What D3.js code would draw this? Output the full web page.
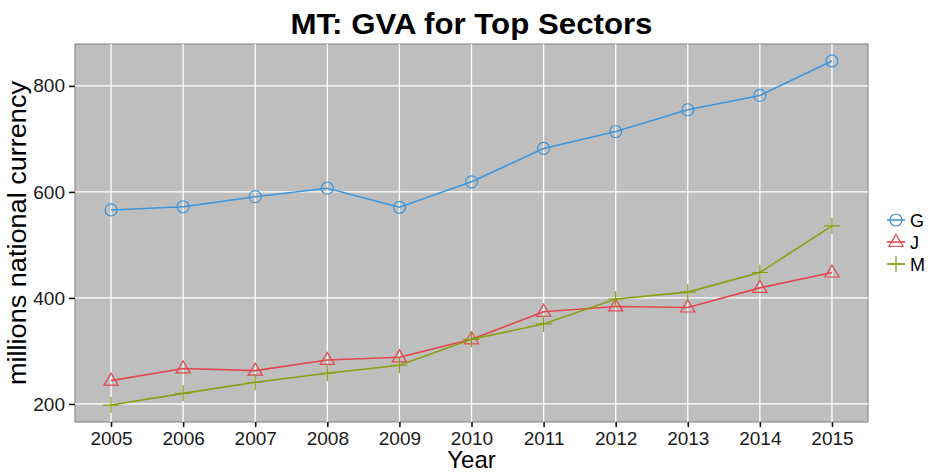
<!DOCTYPE html>
<html>
<head>
<meta charset="utf-8">
<script src="https://cdn.jsdelivr.net/npm/d3@7"></script>
<style>
  body { margin: 0; background: #fff; }
  text { font-family: "Liberation Sans", Arial, sans-serif; }
</style>
</head>
<body>
<svg id="chart" width="928" height="473"></svg>
<script>
// data
var years = [2005, 2006, 2007, 2008, 2009, 2010, 2011, 2012, 2013, 2014, 2015];
var g_values = [566, 572, 591, 607, 571, 619, 682, 714, 755, 782, 847];
var j_values = [244, 267, 263, 283, 288, 322, 374, 384, 382, 419, 448];
var m_values = [198, 220, 241, 258, 273, 322, 351, 398, 411, 448, 536];
var y_ticks = [200, 400, 600, 800];
var series_names = ["G", "J", "M"];
var series_colors = ["#3f95d9", "#e2474d", "#8c9e14"];

var series = [
  {name: "G", values: g_values, shape: "circle"},
  {name: "J", values: j_values, shape: "triangle"},
  {name: "M", values: m_values, shape: "plus"}
];

var svg = d3.select("#chart");
var p_left = 75, p_top = 44, p_right = 868, p_bottom = 422;

var x = d3.scaleLinear().domain([2004.5, 2015.5]).range([p_left, p_right]);
var y = d3.scaleLinear().domain([166, 879]).range([p_bottom, p_top]);
var color = d3.scaleOrdinal().domain(series_names).range(series_colors);

// panel
svg.append("rect")
  .attr("x", p_left).attr("y", p_top)
  .attr("width", p_right - p_left).attr("height", p_bottom - p_top)
  .attr("fill", "#bebebe")
  .attr("stroke", "#7f7f7f").attr("stroke-width", 1);

// grid
svg.append("g").selectAll("line").data(y_ticks).enter().append("line")
  .attr("x1", p_left).attr("x2", p_right)
  .attr("y1", function(d){ return y(d); }).attr("y2", function(d){ return y(d); })
  .attr("stroke", "#fff").attr("stroke-width", 1.3);
svg.append("g").selectAll("line").data(years).enter().append("line")
  .attr("y1", p_top).attr("y2", p_bottom)
  .attr("x1", function(d){ return x(d); }).attr("x2", function(d){ return x(d); })
  .attr("stroke", "#fff").attr("stroke-width", 1.3);

// axes
var x_axis = d3.axisBottom(x).tickValues(years).tickFormat(d3.format("d")).tickSize(5).tickPadding(5);
var y_axis = d3.axisLeft(y).tickValues(y_ticks).tickSize(6).tickPadding(4);

var gx = svg.append("g").attr("transform", "translate(0," + p_bottom + ")").call(x_axis);
var gy = svg.append("g").attr("transform", "translate(" + p_left + ",0)").call(y_axis);
[gx, gy].forEach(function(g){
  g.select(".domain").remove();
  g.selectAll(".tick line").attr("stroke", "#111").attr("stroke-width", 1.6);
  g.selectAll(".tick text").attr("fill", "#1a1a1a").style("font-size", "19px")
    .style("font-family", "'Liberation Sans', Arial, sans-serif");
});

// lines + points
var line = d3.line()
  .x(function(d, i){ return x(years[i]); })
  .y(function(d){ return y(d); });

function draw_shape(g, shape, cx, cy, col) {
  if (shape == "circle") {
    g.append("circle").attr("cx", cx).attr("cy", cy).attr("r", 6)
      .attr("fill", "none").attr("stroke", col).attr("stroke-width", 1.2);
  } else if (shape == "triangle") {
    var s = 7.5;
    g.append("path")
      .attr("d", "M" + cx + "," + (cy - s) + "L" + (cx + s * 0.95) + "," + (cy + s * 0.6) + "L" + (cx - s * 0.95) + "," + (cy + s * 0.6) + "Z")
      .attr("fill", "none").attr("stroke", col).attr("stroke-width", 1.2);
  } else {
    var p = 8;
    g.append("path")
      .attr("d", "M" + (cx - p) + "," + cy + "L" + (cx + p) + "," + cy + "M" + cx + "," + (cy - p) + "L" + cx + "," + (cy + p))
      .attr("stroke", col).attr("stroke-width", 1.2);
  }
}

series.forEach(function(s){
  var col = color(s.name);
  svg.append("path").datum(s.values)
    .attr("d", line)
    .attr("fill", "none").attr("stroke", col).attr("stroke-width", 1.6);
  var pts = svg.append("g");
  s.values.forEach(function(v, i){
    draw_shape(pts, s.shape, x(years[i]), y(v), col);
  });
});

// title and axis labels
svg.append("text").attr("x", (p_left + p_right) / 2).attr("y", 34)
  .attr("text-anchor", "middle").style("font-size", "29px").style("font-weight", "bold")
  .attr("textLength", 362).attr("lengthAdjust", "spacingAndGlyphs")
  .attr("fill", "#000").text("MT: GVA for Top Sectors");
svg.append("text").attr("x", (p_left + p_right) / 2).attr("y", 468)
  .attr("text-anchor", "middle").style("font-size", "24px").attr("fill", "#000").text("Year");
svg.append("text").attr("transform", "translate(26," + ((p_top + p_bottom) / 2) + ") rotate(-90)")
  .attr("text-anchor", "middle").style("font-size", "26px")
  .attr("textLength", 304).attr("lengthAdjust", "spacingAndGlyphs")
  .attr("fill", "#000").text("millions national currency");

// legend
var legend = svg.append("g");
series.forEach(function(s, i){
  var ly = 220 + i * 22;
  var col = color(s.name);
  legend.append("line").attr("x1", 887).attr("x2", 905).attr("y1", ly).attr("y2", ly)
    .attr("stroke", col).attr("stroke-width", 1.6);
  draw_shape(legend, s.shape, 896, ly, col);
  legend.append("text").attr("x", 910).attr("y", ly + 6.5)
    .style("font-size", "18px").attr("fill", "#000").text(s.name);
});
</script>
</body>
</html>
